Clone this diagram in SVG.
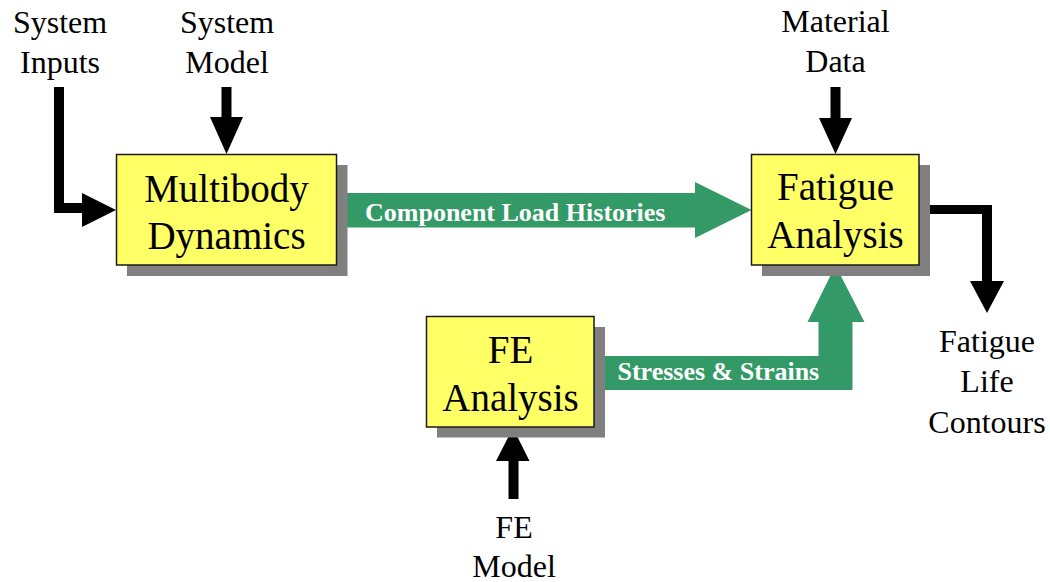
<svg xmlns="http://www.w3.org/2000/svg" width="1050" height="582" viewBox="0 0 1050 582">
  <style>
    .shadow { fill: #808080; }
    .box { fill: #FFFF66; stroke: #1a1a1a; stroke-width: 1.5; }
    .boxtext { font-family: "Liberation Serif", "Times New Roman", serif; font-size: 39px; fill: #000; text-anchor: middle; }
    .label { font-family: "Liberation Serif", "Times New Roman", serif; font-size: 32px; fill: #000; text-anchor: middle; }
    .flowtext { font-family: "Liberation Serif", "Times New Roman", serif; font-size: 26px; font-weight: bold; fill: #fff; }
    .black { fill: #000; }
    .green { fill: #339966; }
  </style>

  <!-- connectors -->
  <g id="connectors">
    <!-- System Inputs: down then right into Multibody Dynamics -->
    <path class="black" d="M54,87 H64 V203 H82 V193 L116,210 L82,227 V213 H54 Z"/>
    <!-- System Model: down into Multibody Dynamics -->
    <path class="black" d="M221.5,87 H231.5 V117 H243 L226.5,154 L210,117 H221.5 Z"/>
    <!-- Material Data: down into Fatigue Analysis -->
    <path class="black" d="M830.5,87 H840.5 V118 H852 L835.5,154 L819,118 H830.5 Z"/>
    <!-- Fatigue Analysis output: right then down -->
    <path class="black" d="M930,205 H992 V281 H1004 L987,313 L970,281 H982 V214 H930 Z"/>
    <!-- FE Model: up into FE Analysis -->
    <path class="black" d="M508.5,499 V461 H496 L513,428 L529.5,461 H518.5 V499 Z"/>

    <!-- Component Load Histories -->
    <path class="green" d="M347,193 H695 V182 L751.5,210 L695,238 V227.5 H347 Z"/>
    <text class="flowtext" x="365" y="220.5">Component Load Histories</text>

    <!-- Stresses & Strains -->
    <path class="green" d="M605,356 H818.5 V322 H807.5 L835.5,265.5 L864.5,322 H852.5 V390 H605 Z"/>
    <text class="flowtext" x="617.5" y="380">Stresses &amp; Strains</text>
  </g>

  <!-- Multibody Dynamics -->
  <g id="multibody">
    <rect class="shadow" x="127" y="165" width="220.5" height="111"/>
    <rect class="box" x="116.5" y="154.5" width="220" height="110.5"/>
    <text class="boxtext" x="226.5" y="201.5">Multibody</text>
    <text class="boxtext" x="226.5" y="249">Dynamics</text>
  </g>

  <!-- Fatigue Analysis -->
  <g id="fatigue">
    <rect class="shadow" x="762" y="165" width="168" height="111"/>
    <rect class="box" x="751.5" y="154.5" width="167.5" height="110.5"/>
    <text class="boxtext" x="835.5" y="200">Fatigue</text>
    <text class="boxtext" x="835.5" y="248">Analysis</text>
  </g>

  <!-- FE Analysis -->
  <g id="fe-analysis">
    <rect class="shadow" x="437" y="327" width="168" height="110.5"/>
    <rect class="box" x="426.5" y="316.5" width="167.5" height="110.5"/>
    <text class="boxtext" x="510.5" y="362.5">FE</text>
    <text class="boxtext" x="510.5" y="410.5">Analysis</text>
  </g>

  <!-- external inputs and outputs -->
  <g id="system-inputs">
    <text class="label" x="60" y="33">System</text>
    <text class="label" x="60" y="73">Inputs</text>
  </g>
  <g id="system-model">
    <text class="label" x="227" y="33">System</text>
    <text class="label" x="227" y="73">Model</text>
  </g>
  <g id="material-data">
    <text class="label" x="835.5" y="32">Material</text>
    <text class="label" x="835.5" y="72">Data</text>
  </g>
  <g id="fatigue-life-contours">
    <text class="label" x="987" y="352">Fatigue</text>
    <text class="label" x="987" y="392">Life</text>
    <text class="label" x="987" y="433">Contours</text>
  </g>
  <g id="fe-model">
    <text class="label" x="514" y="538">FE</text>
    <text class="label" x="514" y="576.5">Model</text>
  </g>
</svg>
